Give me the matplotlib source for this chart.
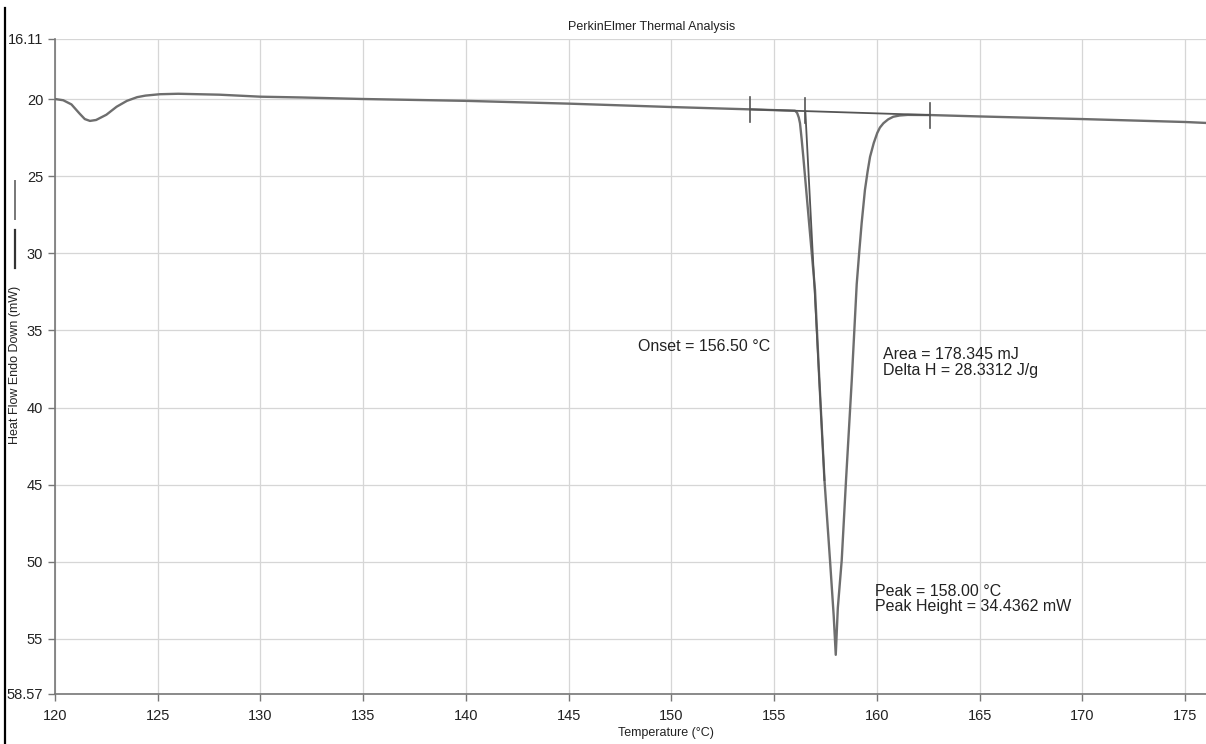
import matplotlib
matplotlib.use("Agg")
import matplotlib.pyplot as plt
from matplotlib.lines import Line2D

plt.rcParams['font.family'] = ['Liberation Sans', 'DejaVu Sans']

# ---- data ----
temp = [120.0, 120.4, 120.8, 121.2, 121.45, 121.7, 122.0, 122.5, 123.0, 123.5,
        124.0, 124.4, 125.1, 126.0, 128.0, 130.0, 132.0, 135.0, 140.0, 145.0,
        150.0, 153.8, 155.5, 156.02, 156.12, 156.2, 156.26, 156.34, 156.42, 156.7,
        156.99, 157.2, 157.45, 157.72, 157.9, 158.0, 158.1, 158.29, 158.5, 158.78,
        159.02, 159.15, 159.26, 159.42, 159.55, 159.67, 159.85, 160.02, 160.15, 160.32,
        160.55, 160.8, 161.1, 161.5, 162.6, 165.0, 170.0, 175.0, 176.0]
heat_flow = [20.0, 20.08, 20.35, 20.95, 21.3, 21.42, 21.36, 21.02, 20.5, 20.12,
             19.88, 19.78, 19.69, 19.66, 19.72, 19.85, 19.9, 20.0, 20.12, 20.3,
             20.52, 20.67, 20.74, 20.76, 20.9, 21.2, 21.57, 22.6, 23.74, 28.0,
             32.38, 38.2, 44.7, 49.9, 53.5, 56.03, 53.0, 49.9, 44.7, 38.2,
             32.0, 29.8, 28.05, 25.9, 24.7, 23.74, 22.85, 22.2, 21.85, 21.57,
             21.32, 21.15, 21.07, 21.03, 21.04, 21.13, 21.3, 21.49, 21.55]

baseline_t = [153.83, 162.59]
baseline_hf = [20.67, 21.04]
onset_t = [156.52, 157.45]
onset_hf = [20.8, 44.7]
marker_t = [153.83, 156.5, 162.59]
marker_top = [19.85, 19.93, 20.24]
marker_bot = [21.47, 21.55, 21.90]

x_ticks = [120, 125, 130, 135, 140, 145, 150, 155, 160, 165, 170, 175]
y_ticks = [16.11, 20, 25, 30, 35, 40, 45, 50, 55, 58.57]
y_ticklabels = ["16.11", "20", "25", "30", "35", "40", "45", "50", "55", "58.57"]

title = "PerkinElmer Thermal Analysis"
xlabel = "Temperature (°C)"
ylabel = "Heat Flow Endo Down (mW)"
onset_text = "Onset = 156.50 °C"
area_text = "Area = 178.345 mJ\nDelta H = 28.3312 J/g"
peak_text = "Peak = 158.00 °C\nPeak Height = 34.4362 mW"

# ---- figure ----
fig = plt.figure(figsize=(12.06, 7.44), dpi=100)
ax = fig.add_axes([55 / 1206, 1 - 694 / 744, 1 - 55 / 1206, (694 - 39) / 744])

ax.set_xlim(120, 176.02)
ax.set_ylim(58.57, 16.11)

ax.set_xticks(x_ticks)
ax.set_yticks(y_ticks)
ax.set_yticklabels(y_ticklabels)
ax.grid(True, color="#d6d6d6", linewidth=0.9)
ax.set_axisbelow(True)

for s in ["top", "right"]:
    ax.spines[s].set_visible(False)
ax.spines["left"].set_color("#777777")
ax.spines["bottom"].set_color("#777777")
ax.spines["left"].set_linewidth(1.2)
ax.spines["bottom"].set_linewidth(1.2)
ax.tick_params(axis="both", colors="#777777", labelcolor="#222222", labelsize=10.5,
               length=5, width=1)
ax.tick_params(axis="x", pad=6)

ax.plot(temp, heat_flow, color="#6e6e6e", linewidth=1.7, zorder=3)
ax.plot(baseline_t, baseline_hf, color="#555555", linewidth=1.3, zorder=4)
ax.plot(onset_t, onset_hf, color="#555555", linewidth=1.3, zorder=4)
for t, a, b in zip(marker_t, marker_top, marker_bot):
    ax.plot([t, t], [a, b], color="#555555", linewidth=1.2, zorder=4)

ax.text(148.38, 36.07, onset_text, fontsize=11.5, color="#222222", va="center", ha="left")
ax.text(160.3, 37.1, area_text, fontsize=11.5, color="#222222", va="center", ha="left",
        linespacing=1.05)
ax.text(159.91, 52.4, peak_text, fontsize=11.5, color="#222222", va="center", ha="left",
        linespacing=1.05)

fig.text(652 / 1206, 1 - 27 / 744, title, fontsize=9, color="#222222", ha="center", va="center")
fig.text(666 / 1206, 1 - 733 / 744, xlabel, fontsize=9, color="#222222", ha="center", va="center")
fig.text(15 / 1206, 1 - 365 / 744, ylabel, fontsize=9, color="#222222", ha="center",
         va="center", rotation=90)

# left frame border and legend samples
fig.add_artist(Line2D([5 / 1206, 5 / 1206], [0, 1 - 8 / 744], color="black", linewidth=1.6))
fig.add_artist(Line2D([15 / 1206, 15 / 1206], [1 - 181 / 744, 1 - 219 / 744],
                      color="#777777", linewidth=1.4))
fig.add_artist(Line2D([15 / 1206, 15 / 1206], [1 - 230 / 744, 1 - 268 / 744],
                      color="#333333", linewidth=1.6))

fig.savefig("out.png", dpi=100)
